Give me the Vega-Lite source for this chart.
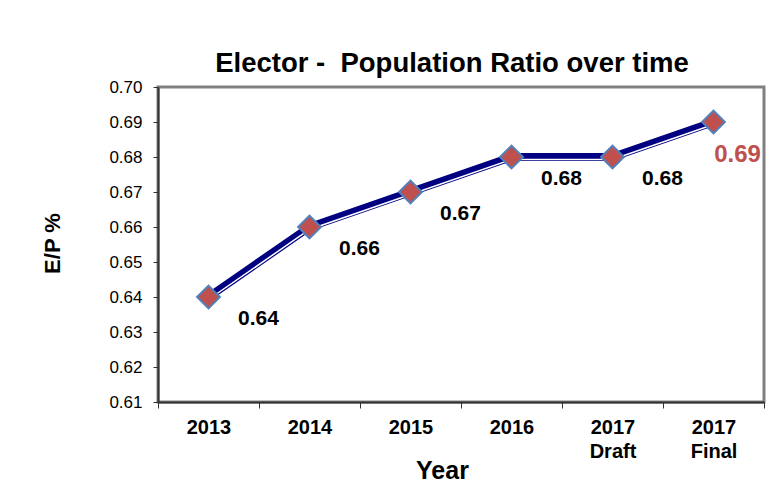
{
  "$schema": "https://vega.github.io/schema/vega-lite/v6.json",
  "width": 606,
  "height": 315,
  "autosize": {"type": "none"},
  "padding": {"left": 158, "top": 87, "right": 19, "bottom": 100},
  "background": "white",
  "config": {
    "view": {"stroke": "#808080", "strokeWidth": 3},
    "font": "Liberation Sans"
  },
  "title": {
    "text": "Elector - \u00a0Population Ratio over time",
    "font": "Liberation Sans",
    "fontSize": 27.5,
    "fontWeight": "bold",
    "color": "black",
    "baseline": "alphabetic",
    "offset": -21,
    "dx": -9
  },
  "data": {
    "values": [
      {"year": "2013", "ratio": 0.64},
      {"year": "2014", "ratio": 0.66},
      {"year": "2015", "ratio": 0.67},
      {"year": "2016", "ratio": 0.68},
      {"year": "2017 Draft", "ratio": 0.68},
      {"year": "2017 Final", "ratio": 0.69}
    ]
  },
  "encoding": {
    "x": {
      "field": "year",
      "type": "nominal",
      "sort": null,
      "scale": {"type": "band", "paddingInner": 0, "paddingOuter": 0},
      "axis": {
        "labelAngle": 0,
        "labelFont": "Liberation Sans",
        "labelFontSize": 20,
        "labelFontWeight": "bold",
        "labelColor": "black",
        "labelExpr": "split(datum.label, ' ')",
        "labelLineHeight": 24,
        "tickBand": "extent",
        "tickSize": 6,
        "tickColor": "#333333",
        "labelPadding": 9,
        "domainColor": "#333333",
        "domainWidth": 2,
        "title": "Year",
        "titleFont": "Liberation Sans",
        "titleFontSize": 25,
        "titleFontWeight": "bold",
        "titleColor": "black",
        "titleX": 284,
        "titleY": 76,
        "titleBaseline": "alphabetic",
        "titleAlign": "center"
      }
    },
    "y": {
      "field": "ratio",
      "type": "quantitative",
      "scale": {"domain": [0.61, 0.70], "nice": false, "zero": false},
      "axis": {
        "values": [0.61, 0.62, 0.63, 0.64, 0.65, 0.66, 0.67, 0.68, 0.69, 0.70],
        "format": ".2f",
        "grid": false,
        "labelFont": "Liberation Sans",
        "labelFontSize": 17,
        "labelColor": "black",
        "labelPadding": 11,
        "tickSize": 5,
        "tickColor": "#333333",
        "domainColor": "#333333",
        "domainWidth": 2,
        "title": "E/P %",
        "titleFont": "Liberation Sans",
        "titleFontSize": 22,
        "titleFontWeight": "bold",
        "titleColor": "black",
        "titleX": -99,
        "titleY": 156,
        "titleAngle": -90,
        "titleBaseline": "alphabetic",
        "titleAlign": "center"
      }
    }
  },
  "layer": [
    {"mark": {"type": "line", "color": "#000080", "strokeWidth": 8}},
    {"mark": {"type": "line", "color": "white", "strokeWidth": 1.5, "yOffset": 2.5}},
    {
      "mark": {
        "type": "point",
        "shape": "diamond",
        "size": 520,
        "filled": true,
        "fill": "#C0504D",
        "stroke": "#4F81BD",
        "strokeWidth": 2,
        "opacity": 1
      }
    },
    {
      "transform": [{"filter": "datum.year != '2017 Final'"}],
      "mark": {
        "type": "text",
        "dx": 50,
        "dy": 22,
        "font": "Liberation Sans",
        "fontSize": 21,
        "fontWeight": "bold",
        "color": "black"
      },
      "encoding": {"text": {"field": "ratio", "type": "quantitative", "format": ".2f"}}
    },
    {
      "transform": [{"filter": "datum.year == '2017 Final'"}],
      "mark": {
        "type": "text",
        "dx": 24,
        "dy": 33,
        "font": "Liberation Sans",
        "fontSize": 24,
        "fontWeight": "bold",
        "color": "#C0504D"
      },
      "encoding": {"text": {"field": "ratio", "type": "quantitative", "format": ".2f"}}
    }
  ]
}
